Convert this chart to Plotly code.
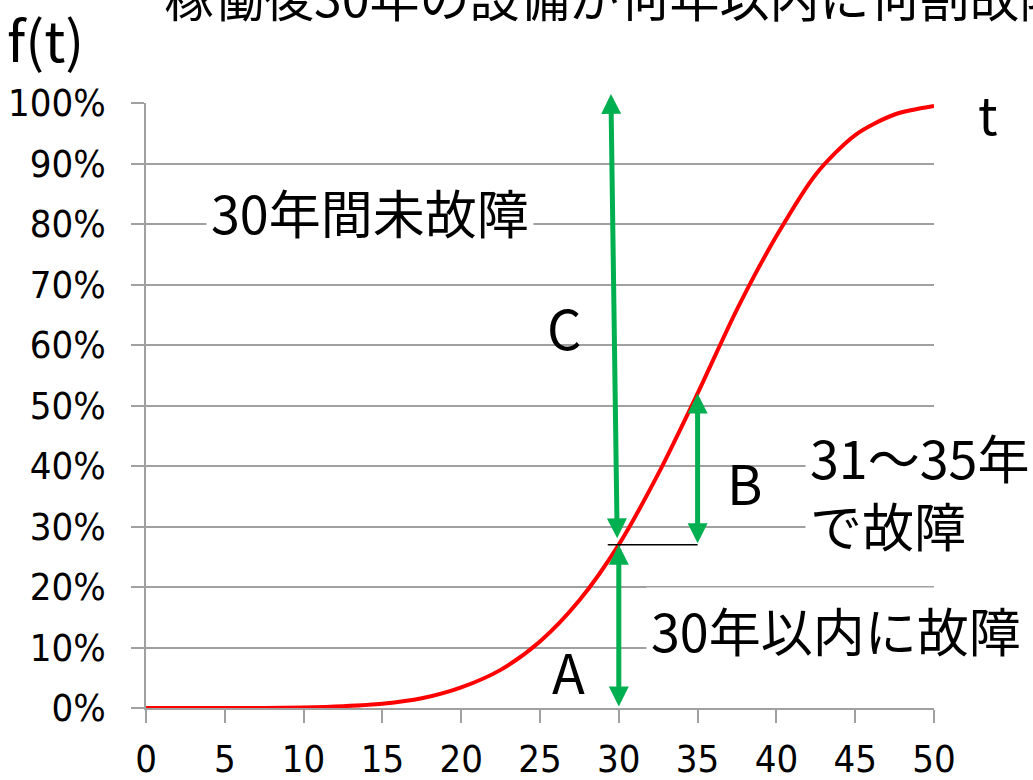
import plotly.graph_objects as go

# Cumulative failure probability f(t) of equipment, sampled every 2.5 years
years = [0, 2.5, 5, 7.5, 10, 12.5, 15, 17.5, 20, 22.5, 25,
         27.5, 30, 32.5, 35, 37.5, 40, 42.5, 45, 47.5, 50]
cum_fail = [0.0, 0.0, 0.0, 0.0002, 0.001, 0.003, 0.007, 0.016, 0.034, 0.063, 0.11,
            0.178, 0.27, 0.387, 0.52, 0.659, 0.78, 0.882, 0.947, 0.981, 0.995]

x_ticks = [0, 5, 10, 15, 20, 25, 30, 35, 40, 45, 50]
y_ticks = [0.0, 0.1, 0.2, 0.3, 0.4, 0.5, 0.6, 0.7, 0.8, 0.9, 1.0]

# Key points: now (30 years) and five years later (35 years)
t_now, t_later = 30, 35
f_now, f_later = 0.27, 0.52
f_top = 1.0

GREEN = "#00B050"
NUM_FONT = "Liberation Sans Narrow, DejaVu Sans Condensed, Arial Narrow, sans-serif"
JP_FONT = "Noto Sans CJK JP, sans-serif"

fig = go.Figure()
fig.add_trace(go.Scatter(
    x=years, y=cum_fail, mode="lines",
    line=dict(color="#FF0000", width=4, shape="spline", smoothing=0.8),
    hoverinfo="skip", showlegend=False,
))

# Horizontal reference line at f(30)
fig.add_shape(type="line", xref="x", yref="y",
              x0=t_now - 0.7, x1=t_later, y0=f_now, y1=f_now,
              line=dict(color="black", width=1.5))


def double_arrow(x0, y0, x1, y1):
    fig.add_annotation(
        x=x1, y=y1, ax=x0, ay=y0, xref="x", yref="y", axref="x", ayref="y",
        text="", showarrow=True, arrowside="end+start", arrowhead=2,
        startarrowhead=2, arrowsize=0.8, startarrowsize=0.8,
        arrowwidth=5, arrowcolor=GREEN, standoff=0, startstandoff=0,
    )


double_arrow(t_now, 0.0, t_now, f_now)                 # A
double_arrow(t_later, f_now, t_later, f_later)         # B
double_arrow(t_now - 0.1, f_now + 0.008, t_now - 0.5, f_top + 0.015)  # C


def label(text, x, y, size=52, bg=None, xanchor="center", align="center", font=JP_FONT, ref="data"):
    fig.add_annotation(
        x=x, y=y, xref="x" if ref == "data" else "paper",
        yref="y" if ref == "data" else "paper",
        text=text, showarrow=False, xanchor=xanchor, yanchor="middle", align=align,
        font=dict(family=font, size=size, color="black"),
        bgcolor=bg, borderpad=4,
    )


label("30年間未故障", 14.2, 0.82, size=52, bg="white")
label("C", 26.5, 0.63, size=54)
label("B", 38.0, 0.375, size=54)
label("A", 26.8, 0.062, size=54)
label("30年以内に故障", 43.8, 0.13, size=52, bg="white")
label("31～35年<br>で故障", 41.8, 0.36, size=52, bg="white", xanchor="left", align="left")
label("t", 1.068, 0.985, size=52, ref="paper")
label("f(t)", -0.127, 1.108, size=56, ref="paper")

# Title, partly above the page edge
fig.add_annotation(
    x=0.02, y=1.178, xref="paper", yref="paper", xanchor="left", yanchor="middle",
    text="稼働後30年の設備が何年以内に何割故障するか", showarrow=False,
    font=dict(family=JP_FONT, size=50, color="black"),
)

fig.update_xaxes(
    range=[0, 50], tickvals=x_ticks, ticktext=[str(v) for v in x_ticks],
    showgrid=False, zeroline=False, showline=True, linecolor="#A0A0A0", linewidth=1.5,
    ticks="outside", ticklen=13, tickcolor="#A0A0A0", tickwidth=1.5, automargin=False,
    tickfont=dict(family=NUM_FONT, size=38, color="black"), ticklabelstandoff=4,
)
fig.update_yaxes(
    range=[0, 1.0], tickvals=y_ticks, ticktext=[f"{round(v * 100)}%" for v in y_ticks],
    showgrid=True, gridcolor="#A0A0A0", gridwidth=1.5, zeroline=False,
    showline=True, linecolor="#A0A0A0", linewidth=1.5, automargin=False,
    ticks="outside", ticklen=13, tickcolor="#A0A0A0", tickwidth=1.5,
    tickfont=dict(family=NUM_FONT, size=38, color="black"), ticklabelstandoff=18,
)

fig.update_layout(
    width=1033, height=780, paper_bgcolor="white", plot_bgcolor="white",
    margin=dict(l=146, r=99, t=103, b=72), showlegend=False,
)

fig.write_html("out.html")
